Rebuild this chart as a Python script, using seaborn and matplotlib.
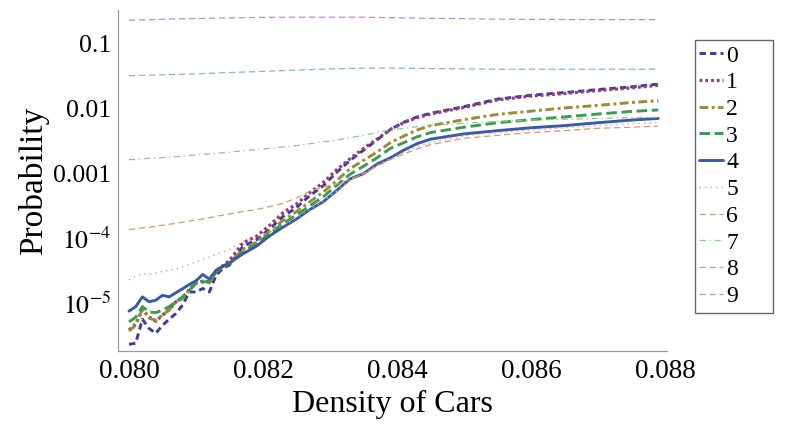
import numpy as np
import pandas as pd
import matplotlib
matplotlib.use("Agg")
import matplotlib.pyplot as plt
import matplotlib.ticker as mticker
from matplotlib.patches import Rectangle
import seaborn as sns

# --- data ---
density = [0.0800, 0.0801, 0.0802, 0.0803, 0.0804, 0.0805, 0.0806, 0.0807,
           0.0808, 0.0809, 0.0810, 0.0811, 0.0812, 0.0813, 0.0814, 0.0815,
           0.0817, 0.0819, 0.0821, 0.0823, 0.0825, 0.0827, 0.0829, 0.0831,
           0.0833, 0.0835, 0.0837, 0.0839, 0.0841, 0.0843, 0.0845, 0.0850,
           0.0855, 0.0860, 0.0865, 0.0870, 0.0875, 0.0879]

p0 = [2.34e-6, 2.43e-6, 5.7e-6, 4.1e-6, 3.45e-6, 4.6e-6, 5.7e-6, 7.0e-6,
      9.4e-6, 1.5e-5, 1.5e-5, 1.7e-5, 1.5e-5, 2.72e-5, 3.45e-5, 3.9e-5,
      7.6e-5, 9.5e-5, 1.4e-4, 2.2e-4, 3.0e-4, 4.6e-4, 6.5e-4, 1.05e-3,
      1.6e-3, 2.3e-3, 3.3e-3, 4.8e-3, 6.2e-3, 7.5e-3, 8.5e-3, 0.0108,
      0.0141, 0.0162, 0.0178, 0.0198, 0.0218, 0.0240]
p1 = [3.9e-6, 4.8e-6, 8.0e-6, 6.2e-6, 5.3e-6, 6.6e-6, 8.0e-6, 1.06e-5,
      1.2e-5, 1.65e-5, 2.1e-5, 2.2e-5, 2.15e-5, 3.1e-5, 3.8e-5, 4.6e-5,
      8.6e-5, 1.08e-4, 1.6e-4, 2.5e-4, 3.4e-4, 5.1e-4, 7.3e-4, 1.15e-3,
      1.7e-3, 2.45e-3, 3.4e-3, 4.8e-3, 6.1e-3, 7.3e-3, 8.3e-3, 0.0105,
      0.0137, 0.0157, 0.0172, 0.0191, 0.0210, 0.0230]
p2 = [3.75e-6, 4.6e-6, 8.2e-6, 5.9e-6, 5.5e-6, 6.6e-6, 7.9e-6, 1.06e-5,
      1.19e-5, 1.6e-5, 2.03e-5, 2.15e-5, 2.07e-5, 3.06e-5, 3.66e-5, 4.2e-5,
      6.8e-5, 8.8e-5, 1.3e-4, 1.9e-4, 2.6e-4, 3.7e-4, 5.2e-4, 7.8e-4,
      1.2e-3, 1.6e-3, 2.15e-3, 3.0e-3, 3.8e-3, 4.7e-3, 5.5e-3, 6.8e-3,
      8.2e-3, 9.2e-3, 0.0103, 0.0113, 0.0125, 0.0133]
p3 = [5.2e-6, 6.1e-6, 8.9e-6, 7.4e-6, 7.2e-6, 7.9e-6, 8.9e-6, 1.06e-5,
      1.26e-5, 1.6e-5, 2.03e-5, 2.15e-5, 2.15e-5, 3.06e-5, 3.66e-5, 4.1e-5,
      6.2e-5, 8.2e-5, 1.2e-4, 1.7e-4, 2.3e-4, 3.2e-4, 4.4e-4, 6.6e-4,
      9.8e-4, 1.3e-3, 1.75e-3, 2.45e-3, 3.0e-3, 3.7e-3, 4.3e-3, 5.2e-3,
      6.1e-3, 6.8e-3, 7.5e-3, 8.3e-3, 9.1e-3, 9.6e-3]
p4 = [7.6e-6, 8.9e-6, 1.26e-5, 1.06e-5, 1.12e-5, 1.33e-5, 1.26e-5, 1.46e-5,
      1.68e-5, 1.96e-5, 2.23e-5, 2.79e-5, 2.37e-5, 3.25e-5, 3.75e-5, 4.2e-5,
      5.8e-5, 7.6e-5, 1.1e-4, 1.5e-4, 2.0e-4, 2.8e-4, 3.7e-4, 5.5e-4,
      8.3e-4, 1.0e-3, 1.4e-3, 1.75e-3, 2.3e-3, 2.9e-3, 3.4e-3, 4.1e-3,
      4.6e-3, 5.1e-3, 5.5e-3, 6.1e-3, 6.7e-3, 7.1e-3]
p5 = [2.3e-5, 2.6e-5, 2.9e-5, 2.8e-5, 2.96e-5, 3.1e-5, 3.25e-5, 3.4e-5,
      3.66e-5, 4.0e-5, 4.36e-5, 4.8e-5, 5.2e-5, 5.7e-5, 6.2e-5, 6.8e-5,
      9.0e-5, 1.0e-4, 1.3e-4, 1.6e-4, 2.1e-4, 2.8e-4, 3.8e-4, 5.4e-4,
      8.0e-4, 1.0e-3, 1.35e-3, 1.7e-3, 2.1e-3, 2.6e-3, 3.0e-3, 3.8e-3,
      4.3e-3, 4.7e-3, 5.1e-3, 5.5e-3, 5.9e-3, 6.1e-3]
p6 = [1.37e-4, 1.42e-4, 1.46e-4, 1.48e-4, 1.55e-4, 1.6e-4, 1.66e-4, 1.72e-4,
      1.78e-4, 1.86e-4, 1.93e-4, 2.0e-4, 2.1e-4, 2.2e-4, 2.3e-4, 2.4e-4,
      2.6e-4, 2.8e-4, 3.1e-4, 3.5e-4, 4.2e-4, 5.4e-4, 6.2e-4, 7.0e-4,
      8.2e-4, 1.0e-3, 1.3e-3, 1.65e-3, 2.0e-3, 2.4e-3, 2.8e-3, 3.5e-3,
      3.9e-3, 4.3e-3, 4.6e-3, 5.0e-3, 5.2e-3, 5.4e-3]
p7 = [1.64e-3, 1.66e-3, 1.69e-3, 1.72e-3, 1.74e-3, 1.77e-3, 1.8e-3, 1.83e-3,
      1.86e-3, 1.9e-3, 1.94e-3, 1.98e-3, 2.02e-3, 2.06e-3, 2.1e-3, 2.15e-3,
      2.25e-3, 2.35e-3, 2.45e-3, 2.58e-3, 2.7e-3, 2.9e-3, 3.1e-3, 3.3e-3,
      3.6e-3, 3.9e-3, 4.3e-3, 4.7e-3, 5.0e-3, 5.3e-3, 5.6e-3, 6.0e-3,
      6.4e-3, 6.7e-3, 6.9e-3, 7.1e-3, 7.3e-3, 7.4e-3]
p8 = [0.0325, 0.0326, 0.0328, 0.0330, 0.0331, 0.0333, 0.0336, 0.0338,
      0.0341, 0.0343, 0.0346, 0.0349, 0.0353, 0.0356, 0.0359, 0.0362,
      0.0368, 0.0374, 0.0381, 0.0388, 0.0395, 0.0402, 0.0408, 0.0414,
      0.0419, 0.0423, 0.0424, 0.0424, 0.0422, 0.0420, 0.0418, 0.0412,
      0.0408, 0.0407, 0.0407, 0.0407, 0.0407, 0.0408]
p9 = [0.232, 0.233, 0.235, 0.236, 0.238, 0.240, 0.242, 0.243,
      0.244, 0.245, 0.246, 0.247, 0.249, 0.250, 0.251, 0.252,
      0.254, 0.256, 0.257, 0.258, 0.258, 0.258, 0.258, 0.258,
      0.258, 0.258, 0.256, 0.254, 0.252, 0.250, 0.248, 0.245,
      0.241, 0.239, 0.238, 0.237, 0.237, 0.237]

series_labels = ["0", "1", "2", "3", "4", "5", "6", "7", "8", "9"]
series_values = [p0, p1, p2, p3, p4, p5, p6, p7, p8, p9]

# --- styles (Mathematica-like look) ---
colors = ["#3D3D99", "#993D71", "#998B3D", "#3D9954", "#3D5A99",
          "#D596D0", "#CC9D72", "#8CC98C", "#86B4CF", "#BE8ACF"]
styles = [(0, (2.2, 1.4)), (0, (0.9, 0.9)), (0, (3, 1.2, 1, 1.2)), (0, (3.6, 1.6)), "-",
          (0, (1, 3)), (0, (5, 3)), (0, (5, 3, 1, 3)), (0, (5, 3)), (0, (5, 3))]
widths = [2.1, 2.3, 2.1, 2.1, 2.1, 1.0, 0.9, 0.9, 0.9, 0.9]

sns.set_style("white")
plt.rcParams["font.family"] = ["Liberation Serif", "DejaVu Serif"]
plt.rcParams["mathtext.fontset"] = "stix"
plt.rcParams["text.color"] = "black"
plt.rcParams["axes.labelcolor"] = "black"

fig = plt.figure(figsize=(7.89, 4.36), dpi=100)
ax = fig.add_axes([118 / 789, 1 - 351 / 436, (667 - 118) / 789, (351 - 10) / 436])

for lab, vals, c, ls, lw in zip(series_labels, series_values, colors, styles, widths):
    df = pd.DataFrame({"density": density, "prob": vals})
    sns.lineplot(data=df, x="density", y="prob", ax=ax, color=c, linestyle=ls,
                 linewidth=lw, label=lab, sort=False)

ax.set_yscale("log")
ax.set_xlim(0.079836, 0.08803)
ax.set_ylim(10 ** -5.734, 10 ** -0.477)

ax.xaxis.set_major_locator(mticker.MultipleLocator(0.002))
ax.xaxis.set_minor_locator(mticker.MultipleLocator(0.0005))
ax.xaxis.set_major_formatter(mticker.FormatStrFormatter("%.3f"))
ax.yaxis.set_major_locator(mticker.LogLocator(base=10, numticks=10))
ax.yaxis.set_minor_locator(mticker.LogLocator(base=10, subs=np.arange(2, 10), numticks=20))
ax.yaxis.set_minor_formatter(mticker.NullFormatter())


def yfmt(v, pos):
    if v >= 1e-3:
        return "%g" % v
    return r"$10^{%d}$" % int(round(np.log10(v)))


ax.yaxis.set_major_formatter(mticker.FuncFormatter(yfmt))

for side in ["top", "right"]:
    ax.spines[side].set_visible(False)
for side in ["left", "bottom"]:
    ax.spines[side].set_color("#999999")
    ax.spines[side].set_linewidth(0.9)

ax.tick_params(which="both", direction="in", color="#999999", labelcolor="black")
ax.tick_params(which="major", length=6, width=0.8)
ax.tick_params(which="minor", length=3.5, width=0.6)
ax.tick_params(axis="x", which="major", pad=6, labelsize=19.5)
ax.tick_params(axis="y", which="major", pad=5, labelsize=18.5)

ax.set_xlabel("Density of Cars", fontsize=23, labelpad=4, color="black")
ax.set_ylabel("Probability", fontsize=24, labelpad=3, color="black")

# legend, with a separate frame so the box can be as wide as in the original
leg = ax.legend(loc="upper left", bbox_to_anchor=(699 / 789, 1 - 45 / 436),
                bbox_transform=fig.transFigure, borderaxespad=0, borderpad=0,
                fontsize=17, frameon=False, handlelength=1.0, handletextpad=0.15,
                labelspacing=0.22)
for t in leg.get_texts():
    t.set_color("black")
fig.add_artist(Rectangle((695 / 789, 1 - 313 / 436), 78 / 789, 273 / 436,
                         transform=fig.transFigure, fill=False,
                         edgecolor="#666666", linewidth=1.0))

fig.savefig("out.png", dpi=100)
